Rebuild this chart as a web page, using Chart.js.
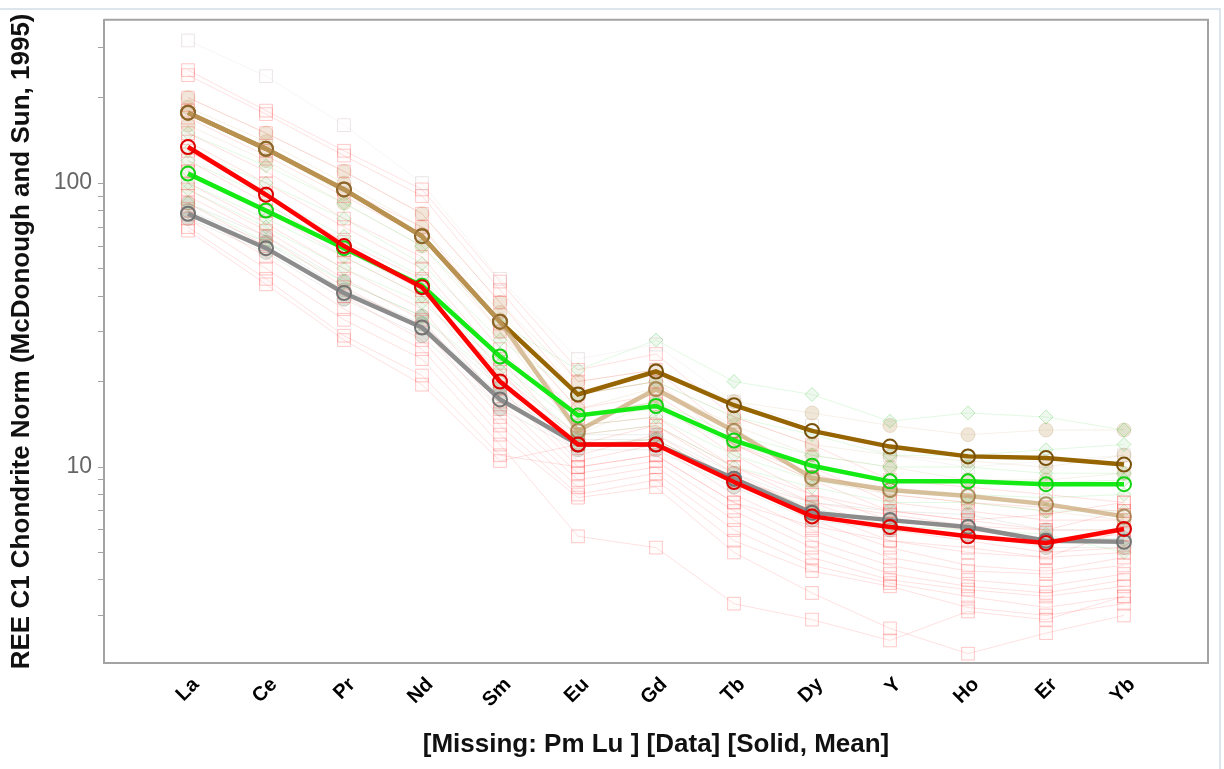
<!DOCTYPE html>
<html><head><meta charset="utf-8">
<script src="https://cdn.jsdelivr.net/npm/chart.js@4.4.0/dist/chart.umd.min.js"></script>
<style>html,body{margin:0;padding:0;background:#fff}#wrap{width:1224px;height:769px;position:relative}</style>
</head><body><div id="wrap"><canvas id="c"></canvas></div>
<script>
// ---- categories ----
const elements = ['La','Ce','Pr','Nd','Sm','Eu','Gd','Tb','Dy','Y','Ho','Er','Yb'];
const yTickLabels = [10, 100];

// ---- mean series ----
const meanGray  = [78, 59, 41, 31, 17.3, 12, 12, 9.1, 6.9, 6.5, 6.15, 5.5, 5.45];
const meanBrown = [177, 132, 95, 65, 32.5, 18, 21.7, 16.5, 13.4, 11.8, 10.9, 10.75, 10.2];
const meanTan   = [177, 132, 95, 65, 32.5, 13.4, 18.8, 13.4, 9.15, 8.3, 7.9, 7.4, 6.7];
const meanGreen = [108, 80, 59, 43.5, 24.5, 15.2, 16.4, 12.4, 10.1, 8.9, 8.9, 8.7, 8.7];
const meanRed   = [134, 91, 60, 43, 20, 12, 12, 8.85, 6.7, 6.15, 5.7, 5.4, 6.05];

// ---- individual samples (faint) ----
const samplesRed = [
  [250, 180, 130, 95, 45, 22, 25, 15, 12, 9, 8.5, 8, 7.5],
  [240, 175, 125, 90, 42, 20, 22, 13, 10, 7.5, 7, 6.5, 6.5],
  [200, 150, 110, 78, 38, 18, 20, 12, 9, 7, 6.5, 6, 6],
  [180, 130, 95, 70, 32, 16, 18, 12, 9.5, 8, 7.5, 7.2, 7],
  [170, 125, 90, 65, 30, 15, 17, 11, 8, 6.5, 6, 5.5, 5.8],
  [150, 110, 75, 55, 26, 14, 15, 10, 7.5, 6, 5.5, 5, 5.2],
  [140, 100, 70, 50, 24, 12, 14, 9.5, 7, 5.5, 5, 4.8, 5],
  [130, 92, 62, 46, 22, 11, 13, 9, 6.5, 5.2, 4.5, 4.3, 4.8],
  [120, 85, 58, 42, 20, 10.5, 12, 8, 6, 4.8, 4.3, 4.2, 4.5],
  [110, 80, 58, 43, 21, 13, 14, 10, 8, 7, 6.5, 6.8, 7.5],
  [110, 80, 55, 40, 19, 10, 11, 7.5, 5.5, 4.5, 4, 3.8, 4.2],
  [100, 72, 50, 36, 17, 9.5, 10.5, 7, 5.2, 4.2, 3.8, 3.6, 4],
  [95, 68, 46, 33, 16, 9, 10, 6.5, 4.8, 4, 3.7, 3.5, 3.8],
  [90, 65, 43, 31, 15, 8.5, 9.5, 6, 4.5, 3.9, 3.5, 3.2, 3.5],
  [85, 60, 40, 28, 14, 8, 9, 5.5, 4.3, 3.8, 3.2, 3, 3.3],
  [80, 55, 36, 26, 13, 7.8, 8.5, 5, 3.6, 2.7, 2.2, 2.6, 3],
  [75, 50, 33, 24, 12, 5.7, 5.2, 3.3, 2.9, 2.45, 3.1, 2.9, 3.5],
  [70, 46, 29, 21, 11, 10, 11, 7.5, 6.2, 5.5, 5.2, 4.8, 6],
  [68, 44, 28, 19.5, 10.5, 12, 12.5, 9, 7.5, 6.8, 6.2, 6, 7]
];
const samplesPale = [
  [318, 238, 160, 100, 46, 24, 27, 17, 14, 11, 10, 10.5, 11]
];
const samplesGreen = [
  [150, 115, 85, 60, 32, 22, 28, 20, 18, 14.5, 15.5, 15, 13.5],
  [130, 100, 75, 52, 28, 18, 20, 15, 13, 11, 11, 11.5, 12],
  [120, 90, 65, 47, 24, 15, 17, 13, 11, 10, 10, 9.5, 9.5],
  [110, 80, 60, 44, 25, 15, 16, 12, 10, 9, 9, 8.8, 9],
  [100, 75, 55, 40, 23, 14, 15, 11, 9, 8.2, 8, 7.8, 8],
  [95, 70, 50, 38, 22, 13, 14, 10, 8.5, 7.5, 7.5, 7, 7],
  [85, 62, 45, 34, 20, 12, 12.5, 9, 7.2, 6.2, 6, 5.8, 5]
];
const samplesTan = [
  [200, 150, 110, 78, 38, 20, 22, 17, 15.5, 14, 13, 13.5, 13.5],
  [185, 140, 100, 70, 35, 18, 20, 15, 12, 11, 10.5, 10, 11],
  [175, 130, 92, 66, 33, 16, 19, 14, 11, 10, 9, 9, 9.5],
  [160, 120, 85, 60, 30, 13, 17, 12, 9, 8, 7.5, 7, 6.5]
];
const samplesGray = [
  [85, 65, 45, 34, 19, 13, 13, 9.5, 7.5, 7, 6.8, 6, 6],
  [80, 62, 42, 32, 18, 12.5, 12.5, 9, 7, 6.5, 6.2, 5.6, 5.6],
  [75, 57, 39, 29, 16, 11.5, 11.5, 8.5, 6.5, 6, 5.8, 5.2, 5.2]
];

const toXY = arr => arr.map((v, i) => ({x: i, y: v}));

const datasets = [];
function addSamples(list, line, pt, ptBg, style, r) {
  list.forEach(arr => datasets.push({
    data: toXY(arr), borderColor: line, borderWidth: 1,
    pointStyle: style, pointRadius: r, pointBorderColor: pt, pointBackgroundColor: ptBg,
    pointBorderWidth: 1, order: 10, tension: 0
  }));
}
addSamples(samplesPale, 'rgba(200,170,170,0.12)', 'rgba(190,170,170,0.3)', 'rgba(0,0,0,0)', 'rect', 9);
addSamples(samplesRed, 'rgba(255,40,40,0.14)', 'rgba(255,60,60,0.28)', 'rgba(255,200,200,0.06)', 'rect', 9);
addSamples(samplesGreen, 'rgba(40,210,40,0.13)', 'rgba(60,200,60,0.3)', 'rgba(120,200,120,0.12)', 'rectRot', 7);
addSamples(samplesTan, 'rgba(200,165,110,0.16)', 'rgba(190,160,110,0.3)', 'rgba(200,170,120,0.28)', 'circle', 7);
addSamples(samplesGray, 'rgba(120,140,110,0.14)', 'rgba(110,130,100,0.3)', 'rgba(120,140,110,0.25)', 'circle', 7);

function addMean(arr, line, pt, order) {
  datasets.push({
    data: toXY(arr), borderColor: line, borderWidth: 4.5,
    pointStyle: 'circle', pointRadius: 7, pointBorderColor: pt, pointBackgroundColor: 'rgba(0,0,0,0)',
    pointBorderWidth: 2, order: order, tension: 0
  });
}
addMean(meanGray, 'rgb(140,140,140)', 'rgb(115,115,115)', 6);
addMean(meanBrown, 'rgb(150,100,0)', 'rgb(120,80,10)', 5);
addMean(meanTan, 'rgba(200,165,115,0.7)', 'rgba(150,110,50,0.7)', 4);
addMean(meanGreen, 'rgb(20,235,20)', 'rgb(20,210,20)', 3);
addMean(meanRed, 'rgb(255,0,0)', 'rgb(220,0,0)', 2);

const framePlugin = {
  id: 'frame',
  beforeDraw(chart) {
    const ctx = chart.ctx;
    ctx.save();
    ctx.strokeStyle = '#dfe5ec';
    ctx.lineWidth = 2;
    ctx.beginPath();
    ctx.moveTo(0, 9); ctx.lineTo(1220, 9); ctx.lineTo(1220, 769);
    ctx.stroke();
    ctx.restore();
  },
  afterDatasetsDraw(chart) {
    const {ctx, chartArea: a} = chart;
    ctx.save();
    ctx.strokeStyle = '#a3a3a3';
    ctx.lineWidth = 2;
    ctx.beginPath();
    ctx.moveTo(a.left, a.top); ctx.lineTo(a.right, a.top); ctx.lineTo(a.right, a.bottom);
    ctx.stroke();
    ctx.restore();
  }
};

new Chart(document.getElementById('c'), {
  type: 'line',
  data: {datasets},
  plugins: [framePlugin],
  options: {
    responsive: true, maintainAspectRatio: false, animation: false,
    layout: {padding: {top: 17, right: 16, left: 0, bottom: 0}},
    plugins: {legend: {display: false}, tooltip: {enabled: false}},
    scales: {
      x: {
        type: 'linear', min: -1.077, max: 13.077,
        afterBuildTicks: s => { s.ticks = elements.map((e, i) => ({value: i})); },
        afterFit: s => { s.height = 106; },
        grid: {display: true, drawOnChartArea: false, drawTicks: false},
        border: {display: true, color: '#a3a3a3', width: 2},
        ticks: {
          autoSkip: false, maxRotation: 45, minRotation: 45, padding: 10, labelOffset: 8,
          color: '#000', font: {family: 'Liberation Sans, Arial', size: 20, weight: 'bold'},
          callback: v => elements[v]
        },
        title: {display: true, text: '[Missing: Pm Lu ] [Data] [Solid, Mean]', color: '#111',
          font: {family: 'Liberation Sans, Arial', size: 26, weight: 'bold'}, padding: {top: 0, bottom: 9}}
      },
      y: {
        type: 'logarithmic', min: 2.04, max: 376,
        afterBuildTicks: s => {
          s.ticks = s.ticks.filter(t => {
            const m = t.value / Math.pow(10, Math.floor(Math.log10(t.value) + 1e-9));
            return Math.abs(m - Math.round(m)) < 1e-6;
          });
        },
        afterFit: s => { s.width = 104; },
        grid: {display: true, drawOnChartArea: false, drawTicks: true, tickLength: 6, color: '#a3a3a3', tickColor: '#a3a3a3'},
        border: {display: true, color: '#a3a3a3', width: 2},
        ticks: {
          autoSkip: false, padding: 6, color: '#666',
          font: {family: 'Liberation Sans, Arial', size: 23},
          callback: v => (yTickLabels.includes(Math.round(v)) && Math.abs(v - Math.round(v)) < 1e-6) ? String(Math.round(v)) : ''
        },
        title: {display: true, text: 'REE C1 Chondrite Norm (McDonough and Sun, 1995)', color: '#111',
          font: {family: 'Liberation Sans, Arial', size: 26, weight: 'bold'}, padding: {top: 6, bottom: 0}}
      }
    }
  }
});
</script>
</body></html>
